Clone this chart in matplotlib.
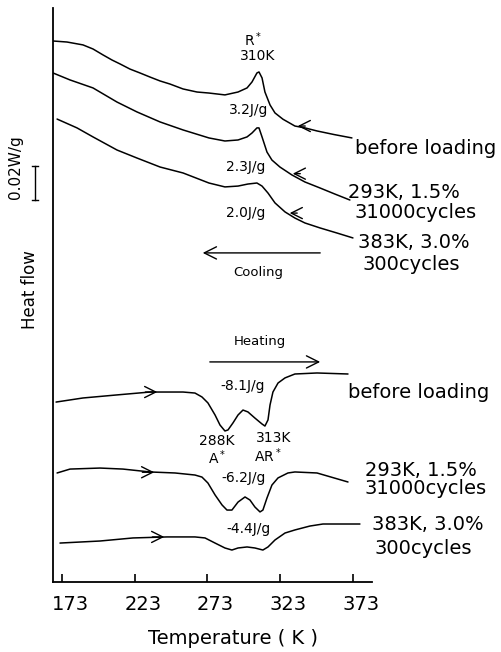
import numpy as np
import matplotlib
matplotlib.use("Agg")
import matplotlib.pyplot as plt
from matplotlib.transforms import ScaledTranslation

# DSC traces: temperature (K) and heat flow offset (mW/g)
# cooling runs (top group)
cool_before_T = [166.8, 176.4, 187.4, 194.3, 201.2, 207.4, 212.9, 219.7, 226.6, 233.5, 240.4,
                 247.2, 256.2, 265.8, 274.0, 285.0, 294.0, 300.2, 303.6, 307.0, 308.4, 310.5,
                 312.5, 316.0, 319.4, 324.9, 333.1, 340.0, 348.3, 360.0, 372.3]
cool_before_Q = [318.1, 317.5, 315.8, 313.4, 309.9, 306.9, 304.6, 301.6, 299.3, 296.9, 294.6,
                 292.8, 289.9, 288.1, 287.5, 286.4, 288.1, 290.5, 294.0, 299.3, 299.9, 296.4,
                 288.1, 280.5, 275.8, 272.1, 268.1, 267.0, 265.2, 263.1, 261.1]

cool_293_T = [166.8, 178.5, 194.3, 210.8, 224.5, 240.4, 256.2, 274.0, 285.0, 294.0, 300.2, 303.6,
              307.0, 308.4, 310.5, 313.9, 317.3, 322.8, 331.1, 340.0, 350.3, 360.6, 370.9]
cool_293_Q = [299.3, 295.2, 290.5, 282.2, 276.4, 270.5, 265.8, 261.1, 259.3, 259.9, 261.7, 264.0,
              267.0, 267.0, 261.7, 252.8, 248.1, 244.0, 239.3, 235.2, 231.7, 228.1, 224.6]

cool_383_T = [169.6, 183.3, 194.3, 210.8, 224.5, 240.4, 256.2, 274.0, 285.0, 294.0, 300.8,
              307.0, 310.5, 314.6, 319.4, 326.3, 333.1, 340.0, 350.3, 362.0, 373.0]
cool_383_Q = [272.2, 267.0, 261.7, 254.0, 249.3, 244.0, 240.5, 234.6, 232.3, 232.8, 234.0,
              234.6, 232.8, 228.7, 222.9, 217.6, 214.0, 211.1, 208.2, 205.2, 202.3]

# heating runs (bottom group)
heat_before_T = [168.9, 187.4, 210.8, 233.5, 256.2, 264.4, 269.2, 273.3, 278.2, 281.6, 285.0,
                 287.1, 290.5, 294.0, 297.4, 300.8, 305.6, 310.5, 312.5, 314.6, 316.0, 318.0,
                 321.5, 326.3, 333.1, 348.3, 369.6]
heat_before_Q = [105.8, 108.2, 110.0, 111.7, 111.7, 111.1, 108.8, 105.3, 98.2, 92.3, 88.8,
                 89.4, 93.5, 98.2, 101.1, 100.0, 96.4, 92.9, 91.7, 95.3, 104.1, 111.7,
                 117.0, 120.0, 122.3, 122.9, 122.3]

heat_293_T = [169.6, 178.5, 199.1, 214.9, 233.5, 250.7, 264.4, 269.2, 273.3, 278.2, 283.0, 286.4,
              289.8, 294.0, 298.8, 302.2, 305.6, 309.1, 311.1, 313.9, 317.3, 321.5, 328.3, 333.1,
              348.3, 369.6]
heat_293_Q = [64.1, 66.4, 67.0, 66.4, 64.7, 64.1, 62.9, 61.7, 58.2, 51.2, 45.3, 42.3,
              42.3, 47.0, 50.0, 48.2, 44.1, 41.2, 42.3, 49.4, 57.0, 61.2, 64.1, 64.7,
              64.1, 58.8]

heat_383_T = [171.6, 199.1, 221.8, 245.2, 264.4, 271.3, 278.2, 285.0, 289.8, 294.0, 300.2,
              305.6, 311.1, 314.6, 319.4, 326.3, 333.1, 343.4, 352.4, 364.1, 377.8]
heat_383_Q = [22.9, 24.1, 25.9, 26.5, 26.5, 25.9, 22.9, 20.0, 18.8, 20.0, 20.6,
              20.0, 18.8, 20.6, 24.7, 28.8, 30.6, 32.9, 34.1, 34.1, 34.1]

xticks = [173, 223, 273, 323, 373]

fig = plt.figure(figsize=(5.01, 6.52), dpi=100)
W, H = 501, 652
ax = fig.add_axes([53 / W, 1 - 582 / H, (372 - 53) / W, (582 - 8) / H])

lw = 1.1
curves = [(cool_before_T, cool_before_Q), (cool_293_T, cool_293_Q), (cool_383_T, cool_383_Q),
          (heat_before_T, heat_before_Q), (heat_293_T, heat_293_Q), (heat_383_T, heat_383_Q)]
for T, Q in curves:
    ax.plot(T, Q, color='black', lw=lw, solid_joinstyle='round', solid_capstyle='round')

ax.set_xlim(166.8, 386.1)
ax.set_ylim(0, 337.5)
ax.spines['top'].set_visible(False)
ax.spines['right'].set_visible(False)
ax.spines['left'].set_linewidth(1.3)
ax.spines['bottom'].set_linewidth(1.3)
ax.set_yticks([])
ax.set_xticks(xticks)
ax.tick_params(axis='x', direction='in', length=6, width=1.2, pad=9, labelsize=14)
for lab in ax.get_xticklabels():
    lab.set_transform(lab.get_transform() + ScaledTranslation(8 / 100, 0, fig.dpi_scale_trans))

arrow = dict(arrowstyle='->', color='black', lw=1.0, mutation_scale=20)

# direction arrows drawn on the traces
for T, Q, th in [(cool_before_T, cool_before_Q, 333.1),
                 (cool_293_T, cool_293_Q, 329.7),
                 (cool_383_T, cool_383_Q, 327.6)]:
    qh = np.interp(th, T, Q)
    ax.annotate('', xy=(th, qh), xytext=(th + 9, qh), arrowprops=arrow)
for T, Q, th in [(heat_before_T, heat_before_Q, 240.4),
                 (heat_293_T, heat_293_Q, 238.3),
                 (heat_383_T, heat_383_Q, 245.2)]:
    qh = np.interp(th, T, Q)
    ax.annotate('', xy=(th, qh), xytext=(th - 12, qh), arrowprops=arrow)

# cooling / heating arrows
ax.annotate('', xy=(267.8, 193.5), xytext=(352.4, 193.5),
            arrowprops=dict(arrowstyle='->', color='black', lw=1.0, mutation_scale=22))
ax.text(307.7, 181.7, 'Cooling', fontsize=9.5, ha='center', va='center')
ax.annotate('', xy=(352.4, 129.4), xytext=(272.7, 129.4),
            arrowprops=dict(arrowstyle='->', color='black', lw=1.0, mutation_scale=22))
ax.text(309.1, 141.7, 'Heating', fontsize=9.5, ha='center', va='center')

small = 10
ax.text(304.3, 318.7, 'R$^*$', fontsize=small, ha='center', va='center')
ax.text(307.7, 309.3, '310K', fontsize=small, ha='center', va='center')
ax.text(301.5, 277.5, '3.2J/g', fontsize=small, ha='center', va='center')
ax.text(299.5, 244.0, '2.3J/g', fontsize=small, ha='center', va='center')
ax.text(299.5, 217.0, '2.0J/g', fontsize=small, ha='center', va='center')
ax.text(297.4, 115.2, '-8.1J/g', fontsize=small, ha='center', va='center')
ax.text(279.5, 82.9, '288K', fontsize=small, ha='center', va='center')
ax.text(279.5, 72.9, 'A$^*$', fontsize=small, ha='center', va='center')
ax.text(318.7, 84.7, '313K', fontsize=small, ha='center', va='center')
ax.text(314.6, 74.1, 'AR$^*$', fontsize=small, ha='center', va='center')
ax.text(298.1, 61.2, '-6.2J/g', fontsize=small, ha='center', va='center')
ax.text(301.5, 31.2, '-4.4J/g', fontsize=small, ha='center', va='center')

# sample labels to the right of the axes
big = 14
labels = [("before loading", 355, 148), ("293K, 1.5%", 348, 193), ("31000cycles", 355, 213),
          ("383K, 3.0%", 358, 243), ("300cycles", 362, 265),
          ("before loading", 348, 393), ("293K, 1.5%", 365, 470), ("31000cycles", 365, 489),
          ("383K, 3.0%", 372, 524), ("300cycles", 375, 548)]
for s, px, py in labels:
    fig.text(px / W, 1 - py / H, s, fontsize=big, ha='left', va='center')

# axis titles and scale bar
fig.text(233 / W, 1 - 638 / H, 'Temperature ( K )', fontsize=14, ha='center', va='center')
fig.text(30 / W, 1 - 290 / H, 'Heat flow', fontsize=12, rotation=90, ha='center', va='center')
fig.text(15 / W, 1 - 167 / H, '0.02W/g', fontsize=11, rotation=90, ha='center', va='center')
fig.add_artist(plt.Line2D([35 / W, 35 / W], [1 - 166 / H, 1 - 200 / H], color='black', lw=1))
fig.add_artist(plt.Line2D([32 / W, 38 / W], [1 - 166 / H, 1 - 166 / H], color='black', lw=1))
fig.add_artist(plt.Line2D([32 / W, 38 / W], [1 - 200 / H, 1 - 200 / H], color='black', lw=1))

fig.savefig('out.png', dpi=100)
